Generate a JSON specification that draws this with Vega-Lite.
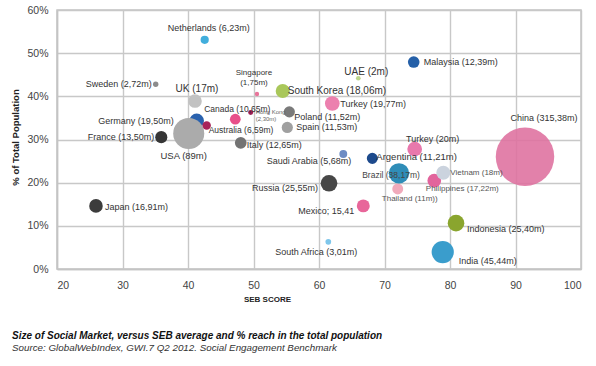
{
  "$schema": "https://vega.github.io/schema/vega-lite/v6.json",
  "autosize": "none",
  "width": 524,
  "height": 259,
  "padding": {"left": 57, "top": 10, "right": 15, "bottom": 97},
  "background": "white",
  "config": {
    "font": "Liberation Sans",
    "view": {"stroke": "#c4c4c4", "strokeWidth": 1.5},
    "axis": {
      "gridColor": "#c8c8c8",
      "gridWidth": 1.4,
      "domainColor": "#c4c4c4",
      "domainWidth": 1.5,
      "ticks": false,
      "labelColor": "#444",
      "labelFontSize": 10.5,
      "titleColor": "#222",
      "titleFontWeight": "bold"
    },
    "text": {"color": "#333", "fontSize": 9, "baseline": "middle"}
  },
  "title": {
    "text": "Size of Social Market, versus SEB average and % reach in the total population",
    "subtitle": "Source: GlobalWebIndex, GWI.7  Q2 2012. Social Engagement Benchmark",
    "orient": "bottom",
    "anchor": "start",
    "frame": "group",
    "dx": -45,
    "offset": 28,
    "fontSize": 10,
    "fontStyle": "italic",
    "fontWeight": "bold",
    "color": "#111",
    "subtitleFontSize": 9.8,
    "subtitleFontStyle": "italic",
    "subtitleColor": "#333",
    "subtitlePadding": 2
  },
  "data": {
    "values": [
      {"country": "China", "label": "China (315,38m)", "seb": 91.45, "reach": 26.0, "users": 315.38},
      {"country": "Netherlands", "label": "Netherlands (6,23m)", "seb": 42.55, "reach": 53.1, "users": 6.23},
      {"country": "Sweden", "label": "Sweden (2,72m)", "seb": 35.07, "reach": 42.8, "users": 2.72},
      {"country": "UK", "label": "UK (17m)", "seb": 41.07, "reach": 38.9, "users": 17},
      {"country": "Singapore", "label": "Singapore\n(1,75m)", "seb": 50.53, "reach": 40.55, "users": 1.75},
      {"country": "South Korea", "label": "South Korea (18,06m)", "seb": 54.46, "reach": 41.25, "users": 18.06},
      {"country": "Canada", "label": "Canada (10,65m)", "seb": 47.22, "reach": 34.7, "users": 10.65},
      {"country": "Hong Kong", "label": "Hong Kong\n(2,30m)", "seb": 49.57, "reach": 36.26, "users": 2.3},
      {"country": "Germany", "label": "Germany (19,50m)", "seb": 41.33, "reach": 34.32, "users": 19.5},
      {"country": "France", "label": "France (13,50m)", "seb": 35.92, "reach": 30.55, "users": 13.5},
      {"country": "USA", "label": "USA (89m)", "seb": 40.11, "reach": 31.41, "users": 89},
      {"country": "Australia", "label": "Australia (6,59m)", "seb": 42.85, "reach": 33.26, "users": 6.59},
      {"country": "Italy", "label": "Italy (12,65m)", "seb": 48.05, "reach": 29.24, "users": 12.65},
      {"country": "Poland", "label": "Poland (11,52m)", "seb": 55.47, "reach": 36.4, "users": 11.52},
      {"country": "Spain", "label": "Spain (11,53m)", "seb": 55.16, "reach": 32.79, "users": 11.53},
      {"country": "Japan", "label": "Japan (16,91m)", "seb": 25.95, "reach": 14.62, "users": 16.91},
      {"country": "Malaysia", "label": "Malaysia (12,39m)", "seb": 74.46, "reach": 47.94, "users": 12.39},
      {"country": "UAE", "label": "UAE (2m)", "seb": 66.0, "reach": 44.18, "users": 2},
      {"country": "Turkey", "label": "Turkey (19,77m)", "seb": 62.03, "reach": 38.34, "users": 19.77},
      {"country": "Turkey", "label": "Turkey (20m)", "seb": 74.61, "reach": 27.78, "users": 20},
      {"country": "Saudi Arabia", "label": "Saudi Arabia (5,68m)", "seb": 63.71, "reach": 26.63, "users": 5.68},
      {"country": "Argentina", "label": "Argentina (11,21m)", "seb": 68.14, "reach": 25.63, "users": 11.21},
      {"country": "Thailand", "label": "Thailand (11m))", "seb": 72.02, "reach": 18.55, "users": 11},
      {"country": "Brazil", "label": "Brazil (38,17m)", "seb": 72.21, "reach": 22.17, "users": 38.17},
      {"country": "Philippines", "label": "Philippines (17,22m)", "seb": 77.6, "reach": 20.46, "users": 17.22},
      {"country": "Vietnam", "label": "Vietnam (18m)", "seb": 78.98, "reach": 22.31, "users": 18},
      {"country": "Russia", "label": "Russia (25,55m)", "seb": 61.53, "reach": 19.86, "users": 25.55},
      {"country": "Mexico", "label": "Mexico; 15,41", "seb": 66.76, "reach": 14.62, "users": 15.41},
      {"country": "Indonesia", "label": "Indonesia (25,40m)", "seb": 80.92, "reach": 10.62, "users": 25.4},
      {"country": "South Africa", "label": "South Africa (3,01m)", "seb": 61.42, "reach": 6.3, "users": 3.01},
      {"country": "India", "label": "India (45,44m)", "seb": 78.89, "reach": 3.93, "users": 45.44}
    ]
  },
  "encoding": {
    "x": {
      "field": "seb", "type": "quantitative",
      "scale": {"domain": [20, 100], "nice": false, "zero": false},
      "axis": {
        "values": [20, 30, 40, 50, 60, 70, 80, 90, 100],
        "labelPadding": 11,
        "title": "SEB SCORE",
        "titleFontSize": 8,
        "titleX": 210,
        "titleY": 30,
        "titleBaseline": "middle",
        "titleAlign": "center"
      }
    },
    "y": {
      "field": "reach", "type": "quantitative",
      "scale": {"domain": [0, 60], "nice": false},
      "axis": {
        "values": [0, 10, 20, 30, 40, 50, 60],
        "labelExpr": "datum.value + '%'",
        "labelPadding": 9,
        "title": "% of Total Population",
        "titleFontSize": 9.5,
        "titleX": -42,
        "titleY": 127,
        "titleBaseline": "middle",
        "titleAlign": "center",
        "titleAngle": -90
      }
    }
  },
  "layer": [
    {
      "mark": {"type": "circle", "stroke": null},
      "encoding": {
        "size": {
          "field": "users", "type": "quantitative",
          "scale": {"type": "linear", "domain": [0, 315.38], "range": [0, 3420], "zero": true},
          "legend": null
        },
        "color": {
          "field": "label", "type": "nominal", "legend": null,
          "scale": {
            "domain": ["China (315,38m)", "Netherlands (6,23m)", "Sweden (2,72m)", "UK (17m)", "Singapore\n(1,75m)", "South Korea (18,06m)", "Canada (10,65m)", "Hong Kong\n(2,30m)", "Germany (19,50m)", "France (13,50m)", "USA (89m)", "Australia (6,59m)", "Italy (12,65m)", "Poland (11,52m)", "Spain (11,53m)", "Japan (16,91m)", "Malaysia (12,39m)", "UAE (2m)", "Turkey (19,77m)", "Turkey (20m)", "Saudi Arabia (5,68m)", "Argentina (11,21m)", "Thailand (11m))", "Brazil (38,17m)", "Philippines (17,22m)", "Vietnam (18m)", "Russia (25,55m)", "Mexico; 15,41", "Indonesia (25,40m)", "South Africa (3,01m)", "India (45,44m)"],
            "range": ["#de6f9e", "#41aedc", "#8c8c8c", "#c2c2c2", "#e8749a", "#a9c75a", "#e8508a", "#9c1c52", "#2a62ae", "#363636", "#ababab", "#a8245a", "#737373", "#7a7a7a", "#a0a0a0", "#3c3c3c", "#2560a8", "#bcd48a", "#ec80ae", "#e878ac", "#6d8cc4", "#1d4a8c", "#f0aabb", "#2f8db8", "#e2649c", "#cbd3de", "#474747", "#e8669a", "#8aa52e", "#7fc6ea", "#3a9dcc"]
          }
        },
        "opacity": {"condition": {"test": "datum.users > 300", "value": 0.88}, "value": 1}
      }
    },
    {
      "encoding": {"text": {"field": "label", "type": "nominal"}},
      "layer": [
        {"transform": [{"filter": "datum.country == 'Netherlands'"}], "mark": {"type": "text", "align": "center", "dx": 4, "dy": -12}},
        {"transform": [{"filter": "datum.country == 'Sweden'"}], "mark": {"type": "text", "align": "right", "dx": -4, "dy": 0}},
        {"transform": [{"filter": "datum.country == 'UK'"}], "mark": {"type": "text", "align": "center", "dx": 2, "dy": -12, "fontSize": 10}},
        {"transform": [{"filter": "datum.country == 'Singapore'"}], "mark": {"type": "text", "align": "center", "baseline": "middle", "dx": -3, "dy": -21, "fontSize": 8, "lineBreak": "\n", "lineHeight": 10}},
        {"transform": [{"filter": "datum.country == 'South Korea'"}], "mark": {"type": "text", "align": "left", "dx": 5, "dy": 0, "fontSize": 10}},
        {"transform": [{"filter": "datum.country == 'Canada'"}], "mark": {"type": "text", "align": "center", "dx": 2, "dy": -10, "fontSize": 8.5}},
        {"transform": [{"filter": "datum.country == 'Hong Kong'"}], "mark": {"type": "text", "align": "left", "baseline": "top", "dx": 5, "dy": -3, "fontSize": 6, "lineBreak": "\n", "lineHeight": 7, "color": "#666"}},
        {"transform": [{"filter": "datum.country == 'Germany'"}], "mark": {"type": "text", "align": "right", "dx": -23, "dy": 0}},
        {"transform": [{"filter": "datum.country == 'Australia'"}], "mark": {"type": "text", "align": "left", "dx": 2, "dy": 5, "fontSize": 8.5}},
        {"transform": [{"filter": "datum.country == 'France'"}], "mark": {"type": "text", "align": "right", "dx": -7, "dy": 0}},
        {"transform": [{"filter": "datum.country == 'USA'"}], "mark": {"type": "text", "align": "center", "dx": -5, "dy": 23, "fontSize": 9.5}},
        {"transform": [{"filter": "datum.country == 'Italy'"}], "mark": {"type": "text", "align": "left", "dx": 6, "dy": 2}},
        {"transform": [{"filter": "datum.country == 'Poland'"}], "mark": {"type": "text", "align": "left", "dx": 5, "dy": 5}},
        {"transform": [{"filter": "datum.country == 'Spain'"}], "mark": {"type": "text", "align": "left", "dx": 9, "dy": 0}},
        {"transform": [{"filter": "datum.country == 'Japan'"}], "mark": {"type": "text", "align": "left", "dx": 9, "dy": 1}},
        {"transform": [{"filter": "datum.country == 'Malaysia'"}], "mark": {"type": "text", "align": "left", "dx": 10, "dy": 0}},
        {"transform": [{"filter": "datum.country == 'UAE'"}], "mark": {"type": "text", "align": "center", "dx": 8, "dy": -6, "fontSize": 10}},
        {"transform": [{"filter": "datum.label == 'Turkey (19,77m)'"}], "mark": {"type": "text", "align": "left", "dx": 8, "dy": 1}},
        {"transform": [{"filter": "datum.country == 'China'"}], "mark": {"type": "text", "align": "center", "dx": 19, "dy": -39}},
        {"transform": [{"filter": "datum.label == 'Turkey (20m)'"}], "mark": {"type": "text", "align": "center", "dx": 18, "dy": -10}},
        {"transform": [{"filter": "datum.country == 'Saudi Arabia'"}], "mark": {"type": "text", "align": "right", "dx": 8, "dy": 7}},
        {"transform": [{"filter": "datum.country == 'Argentina'"}], "mark": {"type": "text", "align": "left", "dx": 4, "dy": -1, "fontSize": 9.5}},
        {"transform": [{"filter": "datum.country == 'Brazil'"}], "mark": {"type": "text", "align": "center", "dx": -8, "dy": 2, "fontSize": 8.5, "color": "#444"}},
        {"transform": [{"filter": "datum.country == 'Vietnam'"}], "mark": {"type": "text", "align": "left", "dx": 7, "dy": 0, "fontSize": 8, "color": "#555"}},
        {"transform": [{"filter": "datum.country == 'Philippines'"}], "mark": {"type": "text", "align": "center", "dx": 28, "dy": 8, "fontSize": 8, "color": "#555"}},
        {"transform": [{"filter": "datum.country == 'Russia'"}], "mark": {"type": "text", "align": "right", "dx": -11, "dy": 5}},
        {"transform": [{"filter": "datum.country == 'Thailand'"}], "mark": {"type": "text", "align": "center", "dx": 12, "dy": 10, "fontSize": 8, "color": "#555"}},
        {"transform": [{"filter": "datum.country == 'Mexico'"}], "mark": {"type": "text", "align": "right", "dx": -9, "dy": 5}},
        {"transform": [{"filter": "datum.country == 'Indonesia'"}], "mark": {"type": "text", "align": "left", "dx": 11, "dy": 6}},
        {"transform": [{"filter": "datum.country == 'South Africa'"}], "mark": {"type": "text", "align": "right", "dx": 29, "dy": 10}},
        {"transform": [{"filter": "datum.country == 'India'"}], "mark": {"type": "text", "align": "left", "dx": 16, "dy": 9}}
      ]
    }
  ]
}
